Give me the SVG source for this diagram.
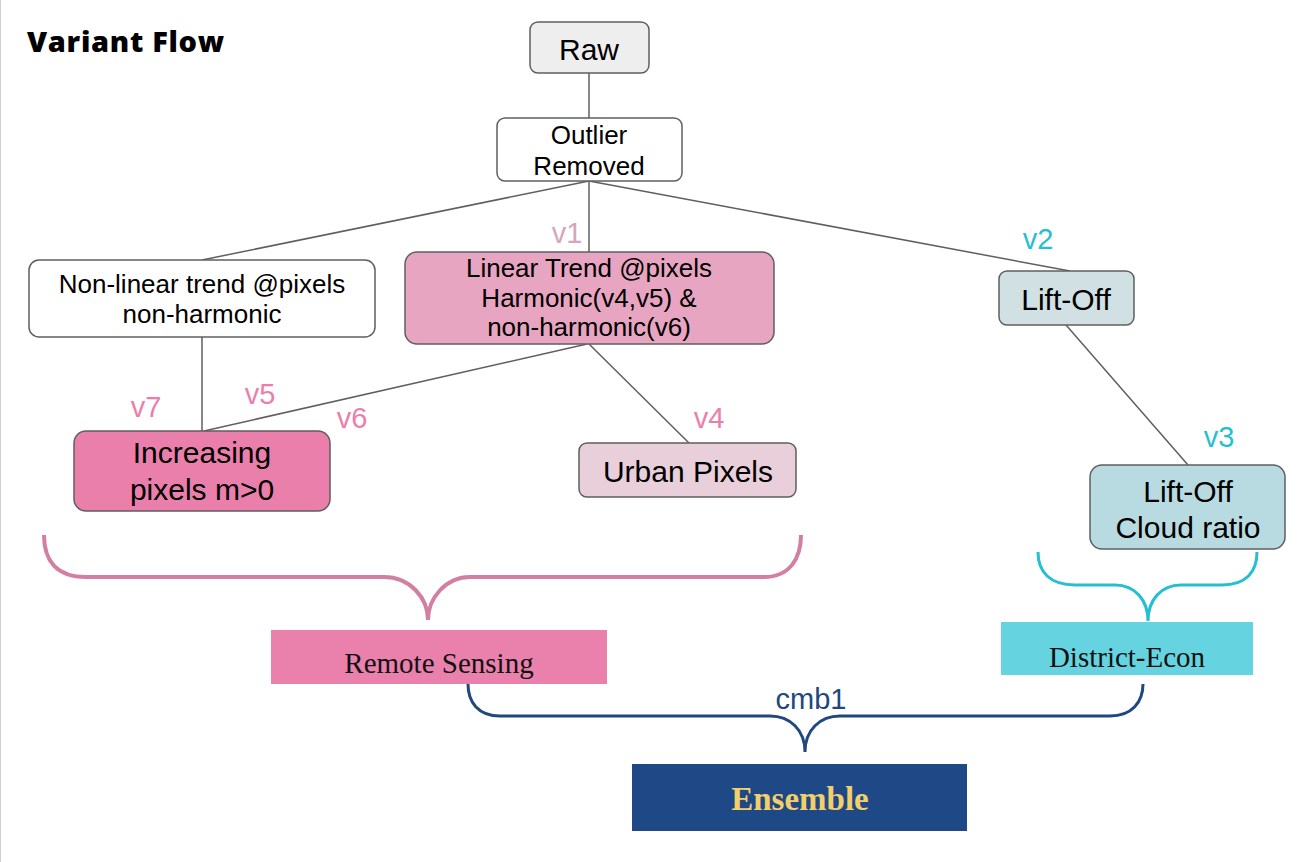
<svg xmlns="http://www.w3.org/2000/svg" width="1316" height="862" viewBox="0 0 1316 862">
<style>
.node{stroke:#5f5f5f;stroke-width:1.5}
.t{font-family:"Liberation Sans",Arial,sans-serif;fill:#000;text-anchor:middle}
.s22{font-size:26px}
.s26{font-size:30px}
.conn{stroke:#5f5f5f;stroke-width:1.5;fill:none}
.vl{font-family:"Liberation Sans",Arial,sans-serif;font-size:29px;text-anchor:middle}
.pink{fill:#ea7fab}
.teal{fill:#26bfd2}
.serif{font-family:"Liberation Serif","Times New Roman",serif;text-anchor:middle}
</style>
<rect width="1316" height="862" fill="#fff"/>
<line x1="0.5" y1="0" x2="0.5" y2="862" stroke="#d0d0d0" stroke-width="1"/>
<text x="27" y="52" font-family="'Open Sans',sans-serif" font-weight="800" font-size="29" letter-spacing="0.7" fill="#000">Variant Flow</text>

<g id="connectors">
<line class="conn" x1="589" y1="73" x2="589" y2="118"/>
<line class="conn" x1="589" y1="181" x2="202" y2="260"/>
<line class="conn" x1="589" y1="181" x2="589" y2="252"/>
<line class="conn" x1="589" y1="181" x2="1070" y2="271"/>
<line class="conn" x1="202" y1="337" x2="202" y2="431"/>
<line class="conn" x1="587" y1="344" x2="204" y2="431"/>
<line class="conn" x1="589" y1="344" x2="689" y2="443"/>
<line class="conn" x1="1066" y1="325" x2="1188" y2="465"/>
<text class="vl" x="567" y="243" fill="#d5a6bd">v1</text>
<text class="vl teal" x="1038" y="249">v2</text>
<text class="vl teal" x="1219" y="447">v3</text>
<text class="vl pink" x="709" y="428">v4</text>
<text class="vl pink" x="260" y="404">v5</text>
<text class="vl pink" x="352" y="428">v6</text>
<text class="vl pink" x="146" y="417">v7</text>
<path d="M44,535 C44,560 56,577 86,577 L384,577 C410,577 428,598 428,620 C428,598 446,577 470,577 L764,577 C790,577 801,558 801,535" fill="none" stroke="#d17fa3" stroke-width="4"/>
<path d="M1038,552 C1038,572 1050,585 1075,585 L1115,585 C1135,585 1148,600 1148,621 C1148,600 1161,585 1181,585 L1222,585 C1246,585 1257,572 1257,552" fill="none" stroke="#26bfd2" stroke-width="3"/>
<path d="M468,684 C468,702 478,716 500,716 L770,716 C790,716 805,730 805,752 C805,730 820,716 840,716 L1110,716 C1132,716 1143,702 1143,684" fill="none" stroke="#21477f" stroke-width="3"/>
<text class="vl" x="811" y="709" fill="#21477f">cmb1</text>
</g>

<g id="raw">
<rect class="node" x="530" y="22" width="119" height="51" rx="8" fill="#eeeeee"/>
<text class="t s26" x="589" y="60">Raw</text>
</g>
<g id="outlier">
<rect class="node" x="497" y="118" width="185" height="63" rx="8" fill="#fff"/>
<text class="t s22" x="589" y="144">Outlier</text>
<text class="t s22" x="589" y="175">Removed</text>
</g>
<g id="nonlinear">
<rect class="node" x="29" y="260" width="346" height="77" rx="10" fill="#fff"/>
<text class="t s22" x="202" y="293">Non-linear trend @pixels</text>
<text class="t s22" x="202" y="323">non-harmonic</text>
</g>
<g id="linear">
<rect class="node" x="405" y="252" width="369" height="92" rx="12" fill="#e8a5c1"/>
<text class="t s22" x="589" y="277">Linear Trend @pixels</text>
<text class="t s22" x="589" y="307">Harmonic(v4,v5) &amp;</text>
<text class="t s22" x="589" y="336">non-harmonic(v6)</text>
</g>
<g id="liftoff">
<rect class="node" x="999" y="271" width="135" height="54" rx="8" fill="#d0e0e3"/>
<text class="t s26" x="1066" y="310">Lift-Off</text>
</g>
<g id="increasing">
<rect class="node" x="74" y="431" width="256" height="80" rx="12" fill="#ea7fab"/>
<text class="t s26" x="202" y="463">Increasing</text>
<text class="t s26" x="202" y="500">pixels m&gt;0</text>
</g>
<g id="urban">
<rect class="node" x="579" y="443" width="217" height="54" rx="8" fill="#e8cfd9"/>
<text class="t s26" x="688" y="482">Urban Pixels</text>
</g>
<g id="cloud">
<rect class="node" x="1090" y="465" width="195" height="84" rx="12" fill="#b8dbe1"/>
<text class="t s26" x="1188" y="502">Lift-Off</text>
<text class="t s26" x="1188" y="538">Cloud ratio</text>
</g>
<g id="remote">
<rect x="271" y="630" width="336" height="54" fill="#ea80ac"/>
<text class="serif" x="439" y="673" font-size="29" fill="#111">Remote Sensing</text>
</g>
<g id="district">
<rect x="1001" y="622" width="252" height="53" fill="#66d4e0"/>
<text class="serif" x="1127" y="667" font-size="29" fill="#111">District-Econ</text>
</g>
<g id="ensemble">
<rect x="632" y="764" width="335" height="67" fill="#1f4986"/>
<text class="serif" x="800" y="810" font-size="33" font-weight="bold" fill="#f1cf6b">Ensemble</text>
</g>
</svg>
